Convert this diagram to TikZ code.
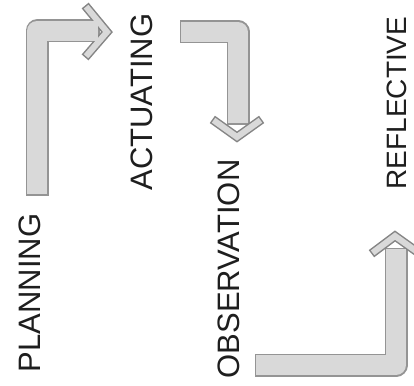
\documentclass[tikz,border=0pt]{standalone}
\usepackage{fontspec}
\setmainfont{Liberation Sans}
\usetikzlibrary{calc}

\definecolor{barfill}{HTML}{D9D9D9}
\definecolor{baredge}{HTML}{949494}
\definecolor{tipedge}{HTML}{858585}
\definecolor{labelink}{HTML}{1E1E1E}

\tikzset{
  phase/.style={rotate=90, text=labelink, inner sep=0pt, font=\fontsize{31}{31}\selectfont},
  barout/.style={draw=baredge, line width=23pt, line cap=rect, line join=round},
  barin/.style={draw=barfill, line width=20pt, line cap=rect, line join=round},
  tipout/.style={draw=tipedge, line width=9pt, line cap=rect, line join=miter},
  tipin/.style={draw=barfill, line width=6pt, line cap=rect, line join=miter}
}

\begin{document}
\begin{tikzpicture}[x=1pt, y=-1pt]
            \useasboundingbox (0,0) rectangle (414,385);

            \node[phase] (plan) at (30,293) {PLANNING};
            \node[phase] (act) at (142,102) {ACTUATING};
            \node[phase] (obs) at (229,269) {OBSERVATION};
            \node[phase, font=\fontsize{28}{28}\selectfont] (refl) at (397,103) {REFLECTIVE};

            % planning -> actuating
            \coordinate (a1s) at (37,184);
            \coordinate (a1c) at (37,31);
            \coordinate (a1e) at (88,31);
            \coordinate (a1l) at (88,9);
            \coordinate (a1t) at (107,32);
            \coordinate (a1r) at (88,54);

            % actuating -> observation
            \coordinate (a2s) at (191,32);
            \coordinate (a2c) at (238,32);
            \coordinate (a2e) at (238,113);
            \coordinate (a2l) at (216,122);
            \coordinate (a2t) at (237,137);
            \coordinate (a2r) at (258,122);

            % observation -> reflective
            \coordinate (a3s) at (266,365);
            \coordinate (a3c) at (396,365);
            \coordinate (a3e) at (396,259);
            \coordinate (a3l) at (375,251);
            \coordinate (a3t) at (395,236);
            \coordinate (a3r) at (416,251);

            \draw[barout] (a1s) -- (a1c) -- (a1e);
            \draw[tipout] (a1l) -- (a1t) -- (a1r);
            \draw[barin] (a1s) -- (a1c) -- (a1e);
            \draw[tipin] (a1l) -- (a1t) -- (a1r);

            \draw[barout] (a2s) -- (a2c) -- (a2e);
            \draw[tipout] (a2l) -- (a2t) -- (a2r);
            \draw[barin] (a2s) -- (a2c) -- (a2e);
            \draw[tipin] (a2l) -- (a2t) -- (a2r);

            \draw[barout] (a3s) -- (a3c) -- (a3e);
            \draw[tipout] (a3l) -- (a3t) -- (a3r);
            \draw[barin] (a3s) -- (a3c) -- (a3e);
            \draw[tipin] (a3l) -- (a3t) -- (a3r);

        \end{tikzpicture}
\end{document}
